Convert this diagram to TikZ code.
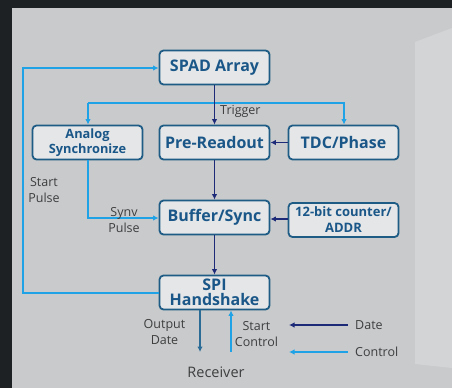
\documentclass[tikz,border=0pt]{standalone}
\usepackage{fontspec}
\setmainfont{Open Sans}
\usetikzlibrary{arrows.meta}
\definecolor{bgdark}{HTML}{1E2124}
\definecolor{panel}{HTML}{C8CACC}
\definecolor{panelR}{HTML}{D2D4D6}
\definecolor{boxfill}{HTML}{E4E6E8}
\definecolor{boxline}{HTML}{1F5C85}
\definecolor{boxtext}{HTML}{1A5788}
\definecolor{navy}{HTML}{1C2A78}
\definecolor{lblue}{HTML}{1FA3E6}
\definecolor{mblue}{HTML}{2A6C96}
\definecolor{lbl}{HTML}{3E3E3E}
\begin{document}
\begin{tikzpicture}[x=1pt,y=-1pt,
  blk/.style={draw=boxline,line width=1.8pt,fill=boxfill,rounded corners=4pt,
    minimum width=110pt,minimum height=34pt,inner sep=0pt,align=center,
    text=boxtext,font=\fontsize{16}{16}\selectfont\bfseries},
  lab/.style={text=lbl,font=\fontsize{12.5}{16}\selectfont,align=center,inner sep=0pt},
  nav/.style={draw=navy,line width=1.5pt,-{Latex[length=5.5pt,width=5.5pt]}},
  lb/.style={draw=lblue,line width=1.5pt,-{Latex[length=5.5pt,width=5.5pt]}},
  mb/.style={draw=mblue,line width=1.5pt,-{Latex[length=5.5pt,width=5.5pt]}}]
\useasboundingbox (0,0) rectangle (452,388);
\fill[bgdark] (0,0) rectangle (452,388);
\fill[panel] (12,8) rectangle (452,388);
\fill[panelR] (415,42) -- (452,28) -- (452,368) -- (415,364) -- cycle;
% blocks
\node[blk] (spad) at (214.5,67.5) {SPAD Array};
\node[blk] (pre) at (214.5,142.5) {Pre-Readout};
\node[blk] (ana) at (87.5,142.5) {\fontsize{12.8}{14}\selectfont Analog\\[-1pt]\fontsize{12.8}{14}\selectfont Synchronize};
\node[blk] (tdc) at (343.5,142.5) {TDC/Phase};
\node[blk] (buf) at (214.5,217.5) {Buffer/Sync};
\node[blk] (cnt) at (343.5,220) {\fontsize{13}{15}\selectfont 12-bit counter/\\\fontsize{13}{15}\selectfont ADDR};
\node[blk] (spi) at (214.5,292.5) {SPI\\[-1pt]Handshake};
% coordinates
\coordinate (lt) at (23,68);
\coordinate (lb1) at (23,293);
\coordinate (tl) at (88,103);
\coordinate (tr) at (344,103);
\coordinate (ac) at (88,218);
\coordinate (od) at (200,352);
\coordinate (sc) at (231,352);
\coordinate (d1) at (348,325);
\coordinate (d2) at (289,325);
\coordinate (c1) at (348,352);
\coordinate (c2) at (289,352);
% connectors
\draw[lb] (spi.west |- lb1) -- (lb1) -- (lt) -- (spad.west |- lt);
\draw[lb] (tl) -- (tl |- ana.north);
\draw[lb] (tl) -- (tr) -- (tr |- tdc.north);
\draw[nav] (spad.south) -- (pre.north);
\draw[nav] (tdc.west) -- (pre.east);
\draw[nav] (pre.south) -- (buf.north);
\draw[lb] (ana.south -| ac) -- (ac) -- (buf.west |- ac);
\draw[nav] (cnt.west |- 0,219) -- (buf.east |- 0,219);
\draw[nav] (buf.south) -- (spi.north);
\draw[mb] (spi.south -| od) -- (od);
\draw[lb] (sc) -- (spi.south -| sc);
\draw[nav] (d1) -- (d2);
\draw[lb] (c1) -- (c2);
% labels
\node[lab,anchor=west] (trig) at (220,111) {Trigger};
\node[lab] (sp) at (44,190) {Start\\Pulse};
\node[lab] (syp) at (124,220) {Synv\\Pulse};
\node[lab] (outd) at (164.5,332) {Output\\Date};
\node[lab] (stc) at (256.5,334.5) {Start\\Control};
\node[lab,anchor=west] (dt) at (355,325) {Date};
\node[lab,anchor=west] (ctl) at (355,352) {Control};
\node[lab,font=\fontsize{14.5}{16}\selectfont] (rcv) at (216,372) {Receiver};
\end{tikzpicture}
\end{document}
